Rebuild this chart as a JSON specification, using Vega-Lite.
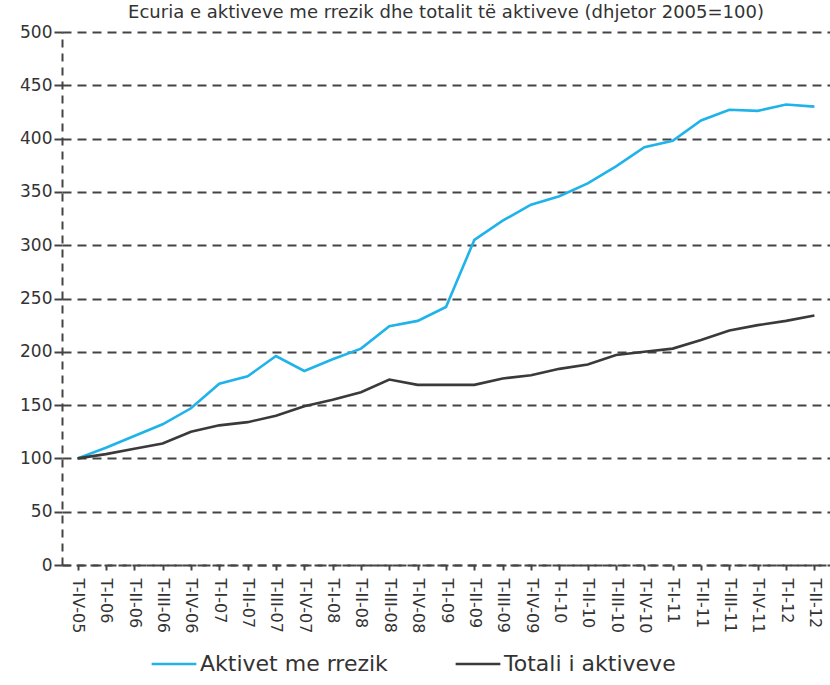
{
  "$schema": "https://vega.github.io/schema/vega-lite/v6.json",
  "autosize": {"type": "none"},
  "padding": {"left": 62, "top": 32, "right": 0, "bottom": 120},
  "width": 768,
  "height": 533,
  "background": "white",
  "title": {
    "text": "Ecuria e aktiveve me rrezik dhe totalit të aktiveve  (dhjetor  2005=100)",
    "font": "DejaVu Sans",
    "fontSize": 18,
    "fontWeight": "normal",
    "color": "#333333",
    "anchor": "middle",
    "offset": 1,
    "dx": 0
  },
  "config": {
    "view": {"stroke": null},
    "font": "DejaVu Sans"
  },
  "data": {
    "values": [
      {"period": "T-IV-05", "series": "Aktivet me rrezik", "value": 100},
      {"period": "T-I-06", "series": "Aktivet me rrezik", "value": 110},
      {"period": "T-II-06", "series": "Aktivet me rrezik", "value": 121},
      {"period": "T-III-06", "series": "Aktivet me rrezik", "value": 132},
      {"period": "T-IV-06", "series": "Aktivet me rrezik", "value": 147},
      {"period": "T-I-07", "series": "Aktivet me rrezik", "value": 170},
      {"period": "T-II-07", "series": "Aktivet me rrezik", "value": 177},
      {"period": "T-III-07", "series": "Aktivet me rrezik", "value": 196},
      {"period": "T-IV-07", "series": "Aktivet me rrezik", "value": 182},
      {"period": "T-I-08", "series": "Aktivet me rrezik", "value": 193},
      {"period": "T-II-08", "series": "Aktivet me rrezik", "value": 203},
      {"period": "T-III-08", "series": "Aktivet me rrezik", "value": 224},
      {"period": "T-IV-08", "series": "Aktivet me rrezik", "value": 229},
      {"period": "T-I-09", "series": "Aktivet me rrezik", "value": 242},
      {"period": "T-II-09", "series": "Aktivet me rrezik", "value": 305},
      {"period": "T-III-09", "series": "Aktivet me rrezik", "value": 323},
      {"period": "T-IV-09", "series": "Aktivet me rrezik", "value": 338},
      {"period": "T-I-10", "series": "Aktivet me rrezik", "value": 346},
      {"period": "T-II-10", "series": "Aktivet me rrezik", "value": 358},
      {"period": "T-III-10", "series": "Aktivet me rrezik", "value": 374},
      {"period": "T-IV-10", "series": "Aktivet me rrezik", "value": 392},
      {"period": "T-I-11", "series": "Aktivet me rrezik", "value": 398},
      {"period": "T-II-11", "series": "Aktivet me rrezik", "value": 417},
      {"period": "T-III-11", "series": "Aktivet me rrezik", "value": 427},
      {"period": "T-IV-11", "series": "Aktivet me rrezik", "value": 426},
      {"period": "T-I-12", "series": "Aktivet me rrezik", "value": 432},
      {"period": "T-II-12", "series": "Aktivet me rrezik", "value": 430},
      {"period": "T-IV-05", "series": "Totali i aktiveve", "value": 100},
      {"period": "T-I-06", "series": "Totali i aktiveve", "value": 104},
      {"period": "T-II-06", "series": "Totali i aktiveve", "value": 109},
      {"period": "T-III-06", "series": "Totali i aktiveve", "value": 114},
      {"period": "T-IV-06", "series": "Totali i aktiveve", "value": 125},
      {"period": "T-I-07", "series": "Totali i aktiveve", "value": 131},
      {"period": "T-II-07", "series": "Totali i aktiveve", "value": 134},
      {"period": "T-III-07", "series": "Totali i aktiveve", "value": 140},
      {"period": "T-IV-07", "series": "Totali i aktiveve", "value": 149},
      {"period": "T-I-08", "series": "Totali i aktiveve", "value": 155},
      {"period": "T-II-08", "series": "Totali i aktiveve", "value": 162},
      {"period": "T-III-08", "series": "Totali i aktiveve", "value": 174},
      {"period": "T-IV-08", "series": "Totali i aktiveve", "value": 169},
      {"period": "T-I-09", "series": "Totali i aktiveve", "value": 169},
      {"period": "T-II-09", "series": "Totali i aktiveve", "value": 169},
      {"period": "T-III-09", "series": "Totali i aktiveve", "value": 175},
      {"period": "T-IV-09", "series": "Totali i aktiveve", "value": 178},
      {"period": "T-I-10", "series": "Totali i aktiveve", "value": 184},
      {"period": "T-II-10", "series": "Totali i aktiveve", "value": 188},
      {"period": "T-III-10", "series": "Totali i aktiveve", "value": 197},
      {"period": "T-IV-10", "series": "Totali i aktiveve", "value": 200},
      {"period": "T-I-11", "series": "Totali i aktiveve", "value": 203},
      {"period": "T-II-11", "series": "Totali i aktiveve", "value": 211},
      {"period": "T-III-11", "series": "Totali i aktiveve", "value": 220},
      {"period": "T-IV-11", "series": "Totali i aktiveve", "value": 225},
      {"period": "T-I-12", "series": "Totali i aktiveve", "value": 229},
      {"period": "T-II-12", "series": "Totali i aktiveve", "value": 234}
    ]
  },
  "mark": {"type": "line", "strokeWidth": 2.6},
  "encoding": {
    "x": {
      "field": "period",
      "type": "ordinal",
      "sort": null,
      "scale": {"type": "point", "padding": 0.55},
      "axis": {
        "title": null,
        "labelAngle": 90,
        "labelFontSize": 16,
        "labelColor": "#333333",
        "labelPadding": 8,
        "domainColor": "#444444",
        "domainWidth": 2,
        "domainDash": [8, 6],
        "tickColor": "#444444",
        "tickWidth": 2,
        "tickSize": 5,
        "grid": false
      }
    },
    "y": {
      "field": "value",
      "type": "quantitative",
      "scale": {"domain": [0, 500], "nice": false},
      "axis": {
        "title": null,
        "values": [0, 50, 100, 150, 200, 250, 300, 350, 400, 450, 500],
        "labelFontSize": 17,
        "labelColor": "#333333",
        "labelPadding": 2,
        "domainColor": "#444444",
        "domainWidth": 2,
        "domainDash": [8, 6],
        "tickColor": "#444444",
        "tickWidth": 2,
        "tickSize": 8,
        "grid": true,
        "gridColor": "#444444",
        "gridWidth": 2.2,
        "gridDash": [9, 6],
        "gridOpacity": 1
      }
    },
    "color": {
      "field": "series",
      "type": "nominal",
      "scale": {
        "domain": ["Aktivet me rrezik", "Totali i aktiveve"],
        "range": ["#1fb3ea", "#3a3a3a"]
      },
      "legend": {
        "title": null,
        "orient": "none",
        "direction": "horizontal",
        "legendX": 88,
        "legendY": 608,
        "symbolType": "stroke",
        "symbolSize": 2000,
        "symbolStrokeWidth": 2.5,
        "labelFontSize": 22,
        "labelLimit": 0,
        "labelColor": "#333333",
        "labelOffset": 2,
        "columnPadding": 62
      }
    }
  }
}
